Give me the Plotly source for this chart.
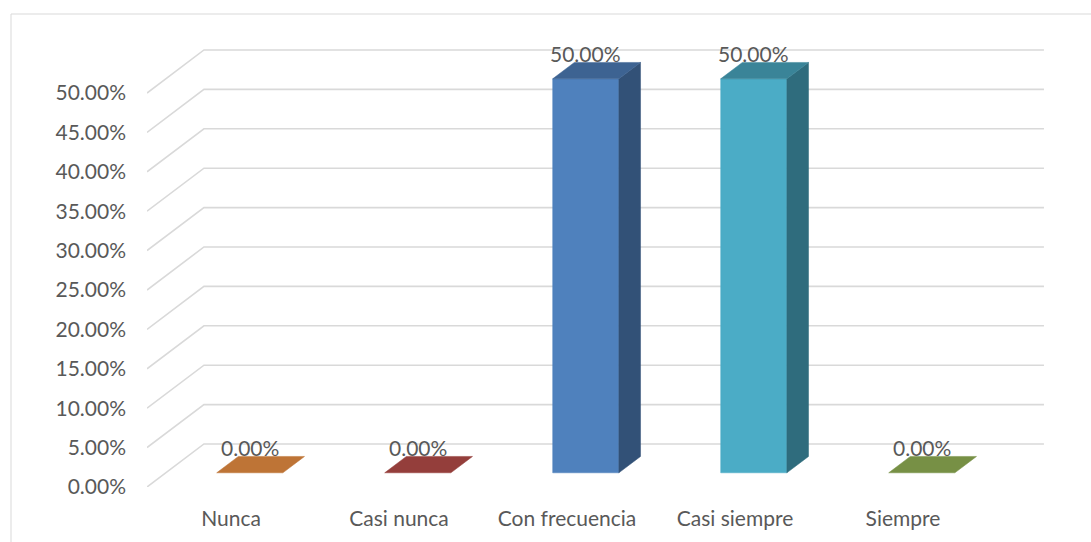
import plotly.graph_objects as go

# Survey answer categories and the share of responses for each
categories = ["Nunca", "Casi nunca", "Con frecuencia", "Casi siempre", "Siempre"]
values = [0.0, 0.0, 50.0, 50.0, 0.0]
bar_colors = ["#F79646", "#C0504D", "#4F81BD", "#4BACC6", "#9BBB59"]

# Value axis ticks
tick_values = [0, 5, 10, 15, 20, 25, 30, 35, 40, 45, 50]
tick_labels = ["0.00%", "5.00%", "10.00%", "15.00%", "20.00%", "25.00%",
               "30.00%", "35.00%", "40.00%", "45.00%", "50.00%"]

# Oblique projection used for the 3-D look (depth expressed in axis units)
DX = 0.339   # horizontal shift per unit of depth (category units)
DY = 5.46    # vertical shift per unit of depth (percent units)
HALF_W = 0.197
D_FRONT, D_BACK = 0.33, 0.71

X_MIN, X_MAX = -0.5, 4.5
PX_PER_CAT = 168.0
PX_PER_PCT = 7.88
W, H = 1091, 542
PLOT_LEFT, PLOT_BOTTOM = 147, 487

TEXT = "#595959"
GRID = "#D9D9D9"
FONT = "Lato"
FONT_SIZE = 21


def proj(x, y, d):
    return x + d * DX, y + d * DY


def shade(hex_color, k):
    h = hex_color.lstrip("#")
    r, g, b = (int(h[i:i + 2], 16) for i in (0, 2, 4))
    return "#%02X%02X%02X" % (round(r * k), round(g * k), round(b * k))


fig = go.Figure()

# Side wall and back wall gridlines
gx, gy = [], []
for v in tick_values:
    x0, y0 = proj(X_MIN, v, 0)
    x1, y1 = proj(X_MIN, v, 1)
    x2, y2 = proj(X_MAX, v, 1)
    gx += [x0, x1, x2, None]
    gy += [y0, y1, y2, None]
fig.add_trace(go.Scatter(x=gx, y=gy, mode="lines",
                         line=dict(color=GRID, width=1.6),
                         hoverinfo="skip", showlegend=False))


def face(points, color):
    xs, ys = [], []
    for (x, y, d) in points + [points[0]]:
        px, py = proj(x, y, d)
        xs.append(px)
        ys.append(py)
    fig.add_trace(go.Scatter(x=xs, y=ys, mode="lines", fill="toself",
                             fillcolor=color, line=dict(color=color, width=0.5),
                             hoverinfo="skip", showlegend=False))


for i, (v, col) in enumerate(zip(values, bar_colors)):
    l, r = i - HALF_W, i + HALF_W
    if v > 0:
        face([(l, 0, D_FRONT), (r, 0, D_FRONT), (r, v, D_FRONT), (l, v, D_FRONT)], col)
        face([(r, 0, D_FRONT), (r, 0, D_BACK), (r, v, D_BACK), (r, v, D_FRONT)],
             shade(col, 0.63))
    face([(l, v, D_FRONT), (r, v, D_FRONT), (r, v, D_BACK), (l, v, D_BACK)],
         shade(col, 0.77))
    lx, _ = proj(i, v, D_FRONT)
    _, ly = proj(i, v, D_BACK)
    fig.add_annotation(x=lx, y=ly, text=f"{v:.2f}%", showarrow=False,
                       xanchor="center", yanchor="bottom", yshift=-6,
                       font=dict(family=FONT, size=FONT_SIZE, color=TEXT))

fig.update_layout(
    template="none",
    width=W, height=H,
    margin=dict(l=0, r=0, t=0, b=0),
    paper_bgcolor="white", plot_bgcolor="rgba(0,0,0,0)",
    showlegend=False,
    xaxis=dict(domain=[PLOT_LEFT / W, 1],
               range=[X_MIN, X_MIN + (W - PLOT_LEFT) / PX_PER_CAT],
               tickmode="array", tickvals=list(range(len(categories))),
               ticktext=categories, ticks="", ticklabelstandoff=17,
               showgrid=False, zeroline=False, showline=False, automargin=False,
               tickfont=dict(family=FONT, size=FONT_SIZE, color=TEXT)),
    yaxis=dict(domain=[(H - PLOT_BOTTOM) / H, 1],
               range=[0, PLOT_BOTTOM / PX_PER_PCT],
               tickmode="array", tickvals=tick_values, ticktext=tick_labels,
               ticks="", ticklabelstandoff=20,
               showgrid=False, zeroline=False, showline=False, automargin=False,
               tickfont=dict(family=FONT, size=FONT_SIZE, color=TEXT)),
    shapes=[
        dict(type="line", xref="paper", yref="paper",
             x0=11 / W, y0=1 - 14 / H, x1=1, y1=1 - 14 / H,
             line=dict(color=GRID, width=1)),
        dict(type="line", xref="paper", yref="paper",
             x0=11 / W, y0=1 - 14 / H, x1=11 / W, y1=0,
             line=dict(color=GRID, width=1)),
    ],
)

fig.write_html("out.html")
